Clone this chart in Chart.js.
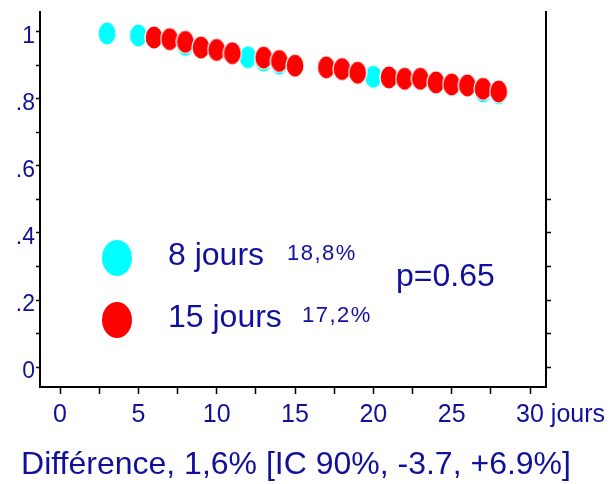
<!DOCTYPE html>
<html>
<head>
<meta charset="utf-8">
<script src="https://cdn.jsdelivr.net/npm/chart.js@4"></script>
<style>
  html, body { margin: 0; padding: 0; background: #fff; }
  #wrap { width: 615px; height: 484px; }
</style>
</head>
<body>
<div id="wrap"><canvas id="mainChart" width="615" height="484"></canvas></div>
<script>
// days and survival proportion, 8 jours group
const jours8 = [3, 5, 6, 7, 8, 9, 10, 11, 12, 13, 14, 15, 17, 18, 19, 20, 21, 22, 23, 24, 25, 26, 27, 28];
const survie8 = [0.995, 0.989, 0.983, 0.976, 0.961, 0.953, 0.946, 0.936, 0.924, 0.914, 0.905, 0.899,
                 0.894, 0.889, 0.878, 0.866, 0.864, 0.860, 0.860, 0.849, 0.843, 0.840, 0.822, 0.816];

// 15 jours group
const jours15 = [6, 7, 8, 9, 10, 11, 13, 14, 15, 17, 18, 19, 21, 22, 23, 24, 25, 26, 27, 28];
const survie15 = [0.983, 0.978, 0.970, 0.953, 0.946, 0.936, 0.923, 0.913, 0.899, 0.894, 0.889, 0.878,
                  0.864, 0.860, 0.860, 0.849, 0.843, 0.840, 0.830, 0.822];

const xTickLabels = ['0', '5', '10', '15', '20', '25', '30'];
const yTickLabels = ['0', '.2', '.4', '.6', '.8', '1'];

const legendLabels = ['8 jours', '15 jours'];
const legendPct = ['18,8%', '17,2%'];
const pValue = 'p=0.65';
const xTitle = 'Différence, 1,6% [IC 90%, -3.7, +6.9%]';

const textColor = '#10109a';
const FONT = 'Liberation Sans, Arial, sans-serif';
const TICK_SIZE = 25;

function ellipse(color, w, h) {
    const c = document.createElement('canvas');
    c.width = w; c.height = h;
    const g = c.getContext('2d');
    g.beginPath();
    g.ellipse(w / 2, h / 2, w / 2 - 1, h / 2 - 1, 0, 0, Math.PI * 2);
    g.fillStyle = color;
    g.fill();
    g.lineWidth = 1.2;
    g.strokeStyle = '#fff';
    g.stroke();
    return c;
}

const pts8 = jours8.map((d, i) => ({ x: d, y: survie8[i] }));
const pts15 = jours15.map((d, i) => ({ x: d, y: survie15[i] }));

const extras = {
    id: 'extras',
    afterDraw(chart) {
        const ctx = chart.ctx;
        const xs = chart.scales.x;
        const area = chart.chartArea;
        ctx.save();
        // " jours" after the 30 tick label
        ctx.font = TICK_SIZE + 'px ' + FONT;
        ctx.fillStyle = textColor;
        ctx.textBaseline = 'middle';
        ctx.textAlign = 'left';
        const x30 = xs.getPixelForValue(30) + ctx.measureText('30').width / 2;
        ctx.fillText(' jours', x30, xs.top + 7 + 6 + TICK_SIZE * 1.2 / 2);

        // axis title (drawn here so it is not squeezed to the scale width)
        ctx.font = '32px ' + FONT;
        ctx.textAlign = 'center';
        ctx.fillText(xTitle, (area.left + area.right) / 2 + 3, 465);
        ctx.textAlign = 'left';

        // legend
        const cols = ['#00ffff', '#ff0000'];
        const ys = [258, 320];
        const pctX = [287, 302];
        for (let i = 0; i < 2; i++) {
            ctx.beginPath();
            ctx.ellipse(117, ys[i], 15, 18, 0, 0, Math.PI * 2);
            ctx.fillStyle = cols[i];
            ctx.fill();
            ctx.fillStyle = textColor;
            ctx.textBaseline = 'alphabetic';
            ctx.font = '32px ' + FONT;
            ctx.fillText(legendLabels[i], 168, ys[i] + 7);
            ctx.font = '22px ' + FONT;
            ctx.letterSpacing = '1.5px';
            ctx.fillText(legendPct[i], pctX[i], ys[i] + 2);
            ctx.letterSpacing = '0px';
        }
        ctx.font = '32px ' + FONT;
        ctx.fillText(pValue, 396, 286);
        ctx.restore();
    }
};

new Chart(document.getElementById('mainChart').getContext('2d'), {
    type: 'scatter',
    data: {
        datasets: [
            {
                label: legendLabels[0],
                data: pts8,
                pointStyle: ellipse('#00ffff', 20, 25),
                pointRadius: 11,
                order: 1
            },
            {
                label: legendLabels[1],
                data: pts15,
                pointStyle: ellipse('#ff0000', 20, 25),
                pointRadius: 11,
                order: 0
            }
        ]
    },
    options: {
        responsive: false,
        animation: false,
        layout: { padding: { top: 10, right: 0, left: 0, bottom: 0 } },
        plugins: { legend: { display: false }, tooltip: { enabled: false } },
        scales: {
            x: {
                type: 'linear',
                min: -1.277,
                max: 31.02,
                afterFit: s => { s.height = 97; s.paddingLeft = 0; s.paddingRight = 0; },
                ticks: {
                    stepSize: 2.5,
                    includeBounds: false,
                    maxRotation: 0,
                    autoSkip: false,
                    padding: 6,
                    color: textColor,
                    font: { family: FONT, size: TICK_SIZE },
                    callback: v => (v % 5 === 0 ? xTickLabels[v / 5] : '')
                },
                grid: { drawOnChartArea: false, drawTicks: true, tickLength: 7, tickColor: '#000', tickWidth: 1.5 },
                border: { display: true, color: '#000', width: 2 }
            },
            y: {
                type: 'linear',
                min: -0.0593,
                max: 1.059,
                afterFit: s => { s.width = 40; s.paddingTop = 0; s.paddingBottom = 0; },
                ticks: {
                    stepSize: 0.1,
                    includeBounds: false,
                    autoSkip: false,
                    padding: 1,
                    labelOffset: 5,
                    color: textColor,
                    font: { family: FONT, size: 23 },
                    callback: v => {
                        const k = Math.round(v * 10);
                        return k % 2 === 0 ? yTickLabels[k / 2] : '';
                    }
                },
                grid: { drawOnChartArea: false, drawTicks: true, tickLength: 4, tickColor: '#000', tickWidth: 1.5 },
                border: { display: true, color: '#000', width: 2 }
            },
            y2: {
                type: 'linear',
                position: 'right',
                min: -0.0593,
                max: 1.059,
                afterFit: s => { s.width = 69; s.paddingTop = 0; s.paddingBottom = 0; },
                ticks: {
                    stepSize: 0.1,
                    includeBounds: false,
                    display: false
                },
                grid: {
                    drawOnChartArea: false,
                    drawTicks: true,
                    tickLength: 5,
                    tickWidth: 1.5,
                    tickColor: ctx => (ctx.tick && ctx.tick.value <= 0.51 ? '#000' : 'rgba(0,0,0,0)')
                },
                border: { display: true, color: '#000', width: 2 }
            }
        }
    },
    plugins: [extras]
});
</script>
</body>
</html>
